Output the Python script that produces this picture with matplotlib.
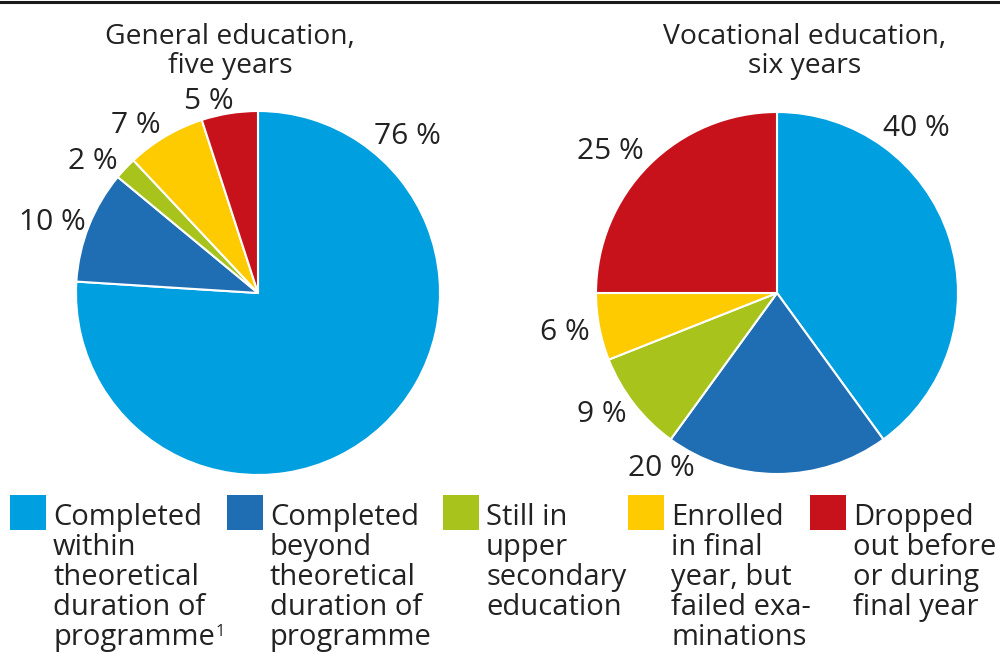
import matplotlib
matplotlib.use("Agg")
import matplotlib.pyplot as plt
from matplotlib.patches import Rectangle
from matplotlib.lines import Line2D

plt.rcParams['font.family'] = ['Open Sans', 'DejaVu Sans']

# data
titles = ["General education,\nfive years", "Vocational education,\nsix years"]
general = [76, 10, 2, 7, 5]
vocational = [40, 20, 9, 6, 25]
colors = ["#009fdf", "#1f6eb4", "#a8c31b", "#fdcb00", "#c8121b"]
legend_labels = [
    "Completed\nwithin\ntheoretical\nduration of\nprogramme",
    "Completed\nbeyond\ntheoretical\nduration of\nprogramme",
    "Still in\nupper\nsecondary\neducation",
    "Enrolled\nin final\nyear, but\nfailed exa-\nminations",
    "Dropped\nout before\nor during\nfinal year",
]

# label spots in unit-radius pie coordinates
general_label_xy = [(0.82, 0.86), (-1.13, 0.39), (-0.91, 0.72), (-0.67, 0.92), (-0.27, 1.05)]
vocational_label_xy = [(0.77, 0.91), (-0.64, -0.97), (-0.97, -0.67), (-1.17, -0.22), (-0.92, 0.78)]

W, H = 1000, 653
fig = plt.figure(figsize=(W / 100, H / 100), dpi=100)
ink = "#222222"


def px(x, y):
    return x / W, 1 - y / H


def draw_pie(center_x, center_y, r, values, label_xy, title, title_x):
    ax = fig.add_axes([(center_x - r) / W, (H - center_y - r) / H, 2 * r / W, 2 * r / H])
    ax.pie(values, colors=colors, startangle=90, counterclock=False, radius=1,
           wedgeprops=dict(edgecolor="white", linewidth=1.5))
    ax.set_xlim(-1, 1)
    ax.set_ylim(-1, 1)
    ax.set_aspect("equal")
    ax.axis("off")
    for v, (lx, ly) in zip(values, label_xy):
        ax.text(lx, ly, f"{v} %", ha="center", va="center", fontsize=21.5, color=ink)
    for i, line in enumerate(title.split("\n")):
        fig.text(*px(title_x, 44 + 29 * i), line, ha="center", va="baseline",
                 fontsize=20.3, color=ink)


draw_pie(258, 293, 182, general, general_label_xy, titles[0], 230)
draw_pie(777, 293, 181, vocational, vocational_label_xy, titles[1], 805)

# legend
square_x = [10, 227, 443, 628, 810]
for k, (sx, col, lab) in enumerate(zip(square_x, colors, legend_labels)):
    x0, y0 = px(sx, 530)
    fig.patches.append(Rectangle((x0, y0), 36 / W, 35 / H, transform=fig.transFigure,
                                 facecolor=col, edgecolor="none"))
    lines = lab.split("\n")
    for i, line in enumerate(lines):
        t = fig.text(*px(sx + 43, 525 + 30 * i), line, ha="left", va="baseline",
                     fontsize=21, color=ink)
    if k == 0:
        # footnote mark after the last line of the first item
        fig.canvas.draw()
        bb = t.get_window_extent()
        fig.text(bb.x1 / W + 1 / W, px(0, 525 + 30 * (len(lines) - 1) - 9)[1], "1",
                 ha="left", va="baseline", fontsize=12, color=ink)

# top rule
fig.lines.append(Line2D([0, 1], [1 - 2 / H, 1 - 2 / H], transform=fig.transFigure,
                        color="#1a1a1a", linewidth=2.2))

fig.savefig("out.png", dpi=100)
